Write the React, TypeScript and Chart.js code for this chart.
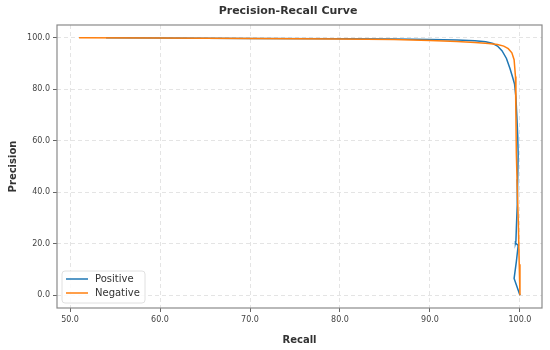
import React, { useEffect, useRef } from "react";
import { Chart, registerables } from "chart.js";

Chart.register(...registerables);

const chartTitle = "Precision-Recall Curve";
const xAxisLabel = "Recall";
const yAxisLabel = "Precision";
const seriesLabels = ["Positive", "Negative"];
const seriesColors = ["#1f77b4", "#ff7f0e"];

const positiveRecall = [54, 60, 70, 80, 86, 90, 93, 95, 96.2, 97.0, 97.5, 98.0, 98.5, 98.9, 99.2, 99.4, 99.55, 99.65, 99.75, 99.8, 99.75, 99.7, 99.6, 99.55, 99.5, 99.8, 99.6, 99.35, 100];
const positivePrecision = [100, 99.9, 99.8, 99.7, 99.6, 99.4, 99.2, 98.9, 98.5, 97.8, 96.8, 95.0, 92.0, 88.0, 84.5, 82.0, 77.0, 70.0, 62.0, 55.0, 45.0, 35.0, 26.0, 21.0, 20.3, 19.3, 13.0, 6.5, 0];

const negativeRecall = [51, 60, 70, 80, 86, 90, 93, 95, 96.5, 97.5, 98.2, 98.7, 99.1, 99.35, 99.5, 99.55, 99.6, 99.7, 99.82, 99.92, 100];
const negativePrecision = [100, 99.9, 99.8, 99.6, 99.4, 99.0, 98.6, 98.2, 97.8, 97.4, 96.8, 95.8, 94.2, 91.5, 85, 70, 55, 42, 28, 12, 0];

const xTicks = [50, 60, 70, 80, 90, 100];
const yTicks = [0, 20, 40, 60, 80, 100];

const FONT = "'DejaVu Sans', sans-serif";

function toPoints(xs: number[], ys: number[]) {
  return xs.map((x, i) => ({ x, y: ys[i] }));
}

const framePlugin = {
  id: "frame",
  afterDatasetsDraw(chart: any) {
    const { ctx, chartArea } = chart;
    ctx.save();
    ctx.strokeStyle = "#8a8a8a";
    ctx.lineWidth = 1.2;
    ctx.strokeRect(chartArea.left, chartArea.top, chartArea.right - chartArea.left, chartArea.bottom - chartArea.top);
    ctx.restore();
  },
};

const titlePlugin = {
  id: "customTitle",
  afterDraw(chart: any) {
    const { ctx } = chart;
    ctx.save();
    ctx.font = `bold 11px ${FONT}`;
    ctx.fillStyle = "#333333";
    ctx.textAlign = "center";
    ctx.textBaseline = "middle";
    ctx.fillText(chartTitle, 288, 11);
    ctx.restore();
  },
};

const legendPlugin = {
  id: "insideLegend",
  afterDraw(chart: any) {
    const { ctx, chartArea } = chart;
    const x = chartArea.left + 5;
    const w = 83;
    const h = 32;
    const y = chartArea.bottom - 5 - h;
    const r = 3;
    ctx.save();
    ctx.beginPath();
    ctx.moveTo(x + r, y);
    ctx.arcTo(x + w, y, x + w, y + h, r);
    ctx.arcTo(x + w, y + h, x, y + h, r);
    ctx.arcTo(x, y + h, x, y, r);
    ctx.arcTo(x, y, x + w, y, r);
    ctx.closePath();
    ctx.fillStyle = "rgba(255,255,255,0.85)";
    ctx.fill();
    ctx.strokeStyle = "#e0e0e0";
    ctx.lineWidth = 1;
    ctx.stroke();
    chart.data.datasets.forEach((ds: any, i: number) => {
      const cy = y + 8 + i * 14;
      ctx.beginPath();
      ctx.strokeStyle = ds.borderColor;
      ctx.lineWidth = 1.5;
      ctx.moveTo(x + 4, cy);
      ctx.lineTo(x + 26, cy);
      ctx.stroke();
      ctx.font = `10px ${FONT}`;
      ctx.fillStyle = "#333333";
      ctx.textAlign = "left";
      ctx.textBaseline = "middle";
      ctx.fillText(ds.label, x + 33, cy + 0.5);
    });
    ctx.restore();
  },
};

export default function App() {
  const canvasRef = useRef<HTMLCanvasElement | null>(null);

  useEffect(() => {
    if (!canvasRef.current) return;
    const chart = new Chart(canvasRef.current, {
      type: "line",
      data: {
        datasets: [
          {
            label: seriesLabels[0],
            data: toPoints(positiveRecall, positivePrecision),
            borderColor: seriesColors[0],
            backgroundColor: seriesColors[0],
            borderWidth: 1.5,
            pointRadius: 0,
            tension: 0,
            fill: false,
            order: 1,
          },
          {
            label: seriesLabels[1],
            data: toPoints(negativeRecall, negativePrecision),
            borderColor: seriesColors[1],
            backgroundColor: seriesColors[1],
            borderWidth: 1.5,
            pointRadius: 0,
            tension: 0,
            fill: false,
            order: 0,
          },
        ],
      },
      options: {
        animation: false,
        responsive: false,
        maintainAspectRatio: false,
        layout: { padding: { top: 25, right: 8, left: 0, bottom: 0 } },
        plugins: {
          legend: { display: false },
          title: { display: false },
          tooltip: { enabled: false },
        },
        scales: {
          x: {
            type: "linear",
            min: 48.55,
            max: 102.45,
            afterBuildTicks: (s: any) => {
              s.ticks = xTicks.map((v) => ({ value: v }));
            },
            afterFit: (s: any) => {
              s.height = 42;
            },
            ticks: {
              callback: (v: any) => Number(v).toFixed(1),
              font: { family: FONT, size: 8 },
              color: "#444444",
              padding: 3,
              maxRotation: 0,
              autoSkip: false,
            },
            grid: {
              color: "#dddddd",
              lineWidth: 0.8,
              tickLength: 4,
              tickColor: "#666666",
              tickWidth: 1,
            },
            border: { display: false, dash: [4, 3] },
            title: {
              display: true,
              text: xAxisLabel,
              font: { family: FONT, size: 10, weight: "bold" },
              color: "#333333",
              padding: { top: 4, bottom: 4 },
            },
          },
          y: {
            type: "linear",
            min: -5,
            max: 105,
            afterBuildTicks: (s: any) => {
              s.ticks = yTicks.map((v) => ({ value: v }));
            },
            afterFit: (s: any) => {
              s.width = 57;
            },
            ticks: {
              callback: (v: any) => Number(v).toFixed(1),
              font: { family: FONT, size: 8 },
              color: "#444444",
              padding: 3,
              autoSkip: false,
            },
            grid: {
              color: "#dddddd",
              lineWidth: 0.8,
              tickLength: 4,
              tickColor: "#666666",
              tickWidth: 1,
            },
            border: { display: false, dash: [4, 3] },
            title: {
              display: true,
              text: yAxisLabel,
              font: { family: FONT, size: 10, weight: "bold" },
              color: "#333333",
              padding: { top: 7, bottom: 4 },
            },
          },
        },
      },
      plugins: [framePlugin, titlePlugin, legendPlugin],
    } as any);
    return () => chart.destroy();
  }, []);

  return (
    <div style={{ position: "absolute", left: 0, top: 0, width: 550, height: 350, background: "#ffffff" }}>
      <canvas ref={canvasRef} width={550} height={350} style={{ width: 550, height: 350, display: "block" }} />
    </div>
  );
}
